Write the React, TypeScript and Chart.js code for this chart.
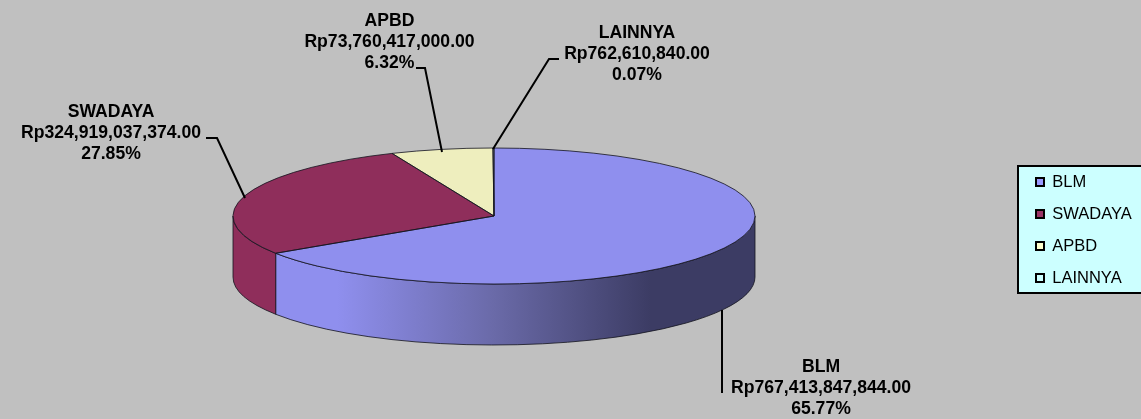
import React, { useEffect, useRef } from "react";
import { Chart, registerables } from "chart.js";

Chart.register(...registerables);

const categories = ["BLM", "SWADAYA", "APBD", "LAINNYA"];
const amounts = [767413847844, 324919037374, 73760417000, 762610840];
const percents = ["65.77%", "27.85%", "6.32%", "0.07%"];
const topColors = ["#8F8FEE", "#8F2E5B", "#EEEEBE", "#DFFFFF"];
const legendColors = ["#9999FF", "#993366", "#FFFFCC", "#CCFFFF"];
const sideColors = ["#8F8FEE", "#8F2E5B", "#EEEEBE", "#DFFFFF"];

// Layout of the 3D drawing
const CX = 494;
const CY = 216;
const RX = 261;
const RY = 68;
const DEPTH = 61;

const labelCenters = [
  [821, 367.5],
  [111, 112.5],
  [389.5, 21.5],
  [637, 33.5],
];
const LINE_GAP = 20.8;
const leaders = [
  [[722, 310], [722, 393]],
  [[206, 138], [217, 138], [245, 198]],
  [[416, 68], [425, 68], [442, 152]],
  [[559, 59], [549, 59], [493, 149]],
];

const money = (v: number) =>
  "Rp" + v.toLocaleString("en-US", { minimumFractionDigits: 2, maximumFractionDigits: 2 });

const pie3d = {
  id: "pie3d",
  beforeDraw(chart: any) {
    const { ctx, width, height } = chart;
    ctx.save();
    ctx.fillStyle = "#C0C0C0";
    ctx.fillRect(0, 0, width, height);
    ctx.fillStyle = "#CCFFFF";
    ctx.strokeStyle = "#000";
    ctx.lineWidth = 2;
    ctx.fillRect(1018, 166, 130, 127);
    ctx.strokeRect(1018, 166, 130, 127);
    ctx.restore();
  },
  beforeDatasetsDraw(chart: any) {
    const { ctx } = chart;
    const arcs = chart.getDatasetMeta(0).data;
    // extruded wall: only the front half of the ellipse (canvas angles 0..PI)
    arcs.forEach((arc: any, i: number) => {
      const norm = (a: number) => {
        let v = a;
        while (v < -Math.PI / 2) v += Math.PI * 2;
        return v;
      };
      const s = norm(arc.startAngle);
      const e = s + (arc.endAngle - arc.startAngle);
      const a = Math.max(s, 0);
      const b = Math.min(e, Math.PI);
      if (b <= a) return;
      ctx.save();
      ctx.beginPath();
      ctx.ellipse(CX, CY, RX, RY, 0, a, b, false);
      ctx.ellipse(CX, CY + DEPTH, RX, RY, 0, b, a, true);
      ctx.closePath();
      if (i === 0) {
        const g = ctx.createLinearGradient(CX - RX, 0, CX + RX, 0);
        g.addColorStop(0.0, "#8F8FEE");
        g.addColorStop(0.2, "#8F8FEE");
        g.addColorStop(0.5, "#6A6AA8");
        g.addColorStop(0.8, "#3C3C64");
        g.addColorStop(1.0, "#3C3C64");
        ctx.fillStyle = g;
      } else {
        ctx.fillStyle = sideColors[i];
      }
      ctx.fill();
      ctx.strokeStyle = "rgba(20,20,30,0.8)";
      ctx.lineWidth = 1;
      ctx.stroke();
      ctx.restore();
    });
    // squash the flat Chart.js pie into the top ellipse
    const first = arcs[0];
    const R = first.outerRadius;
    ctx.save();
    ctx.translate(CX, CY);
    ctx.scale(RX / R, RY / R);
    ctx.translate(-first.x, -first.y);
  },
  afterDatasetsDraw(chart: any) {
    const { ctx } = chart;
    ctx.restore();
    const arcs = chart.getDatasetMeta(0).data;
    ctx.save();
    ctx.strokeStyle = "rgba(20,20,30,0.8)";
    ctx.lineWidth = 1;
    arcs.forEach((arc: any) => {
      ctx.beginPath();
      ctx.moveTo(CX, CY);
      ctx.ellipse(CX, CY, RX, RY, 0, arc.startAngle, arc.endAngle, false);
      ctx.closePath();
      ctx.stroke();
    });
    ctx.restore();
  },
  afterDraw(chart: any) {
    const { ctx } = chart;
    ctx.save();
    ctx.strokeStyle = "#000";
    ctx.lineWidth = 2;
    leaders.forEach((pts) => {
      ctx.beginPath();
      pts.forEach(([x, y], i) => (i ? ctx.lineTo(x, y) : ctx.moveTo(x, y)));
      ctx.stroke();
    });
    ctx.fillStyle = "#000";
    ctx.font = 'bold 17.6px "Liberation Sans", Arial, sans-serif';
    ctx.textAlign = "center";
    ctx.textBaseline = "middle";
    categories.forEach((name, i) => {
      const [x, y] = labelCenters[i];
      [name, money(amounts[i]), percents[i]].forEach((line, k) => {
        ctx.fillText(line, x, y + k * LINE_GAP);
      });
    });
    ctx.restore();
  },
};

export default function App() {
  const ref = useRef<HTMLCanvasElement>(null);
  useEffect(() => {
    document.body.style.margin = "0";
    document.documentElement.style.overflow = "hidden";
    const chart = new Chart(ref.current!, {
      type: "pie",
      data: {
        labels: categories,
        datasets: [
          {
            data: amounts,
            backgroundColor: topColors,
            borderWidth: 0,
            clip: false,
          } as any,
        ],
      },
      options: {
        responsive: false,
        animation: false,
        events: [],
        layout: { padding: { top: 41 } },
        plugins: {
          tooltip: { enabled: false },
          legend: {
            position: "right",
            maxWidth: 120.5,
            labels: {
              padding: 15.5,
              boxWidth: 8,
              boxHeight: 8,
              color: "#000",
              font: { family: '"Liberation Sans", Arial, sans-serif', size: 16.5 },
              generateLabels: () =>
                categories.map((text, i) => ({
                  text,
                  fillStyle: legendColors[i],
                  strokeStyle: "#000",
                  lineWidth: 2,
                  hidden: false,
                  index: i,
                })),
            },
          },
        },
      } as any,
      plugins: [pie3d],
    });
    return () => chart.destroy();
  }, []);
  return <canvas ref={ref} width={1141} height={419} style={{ display: "block" }} />;
}
